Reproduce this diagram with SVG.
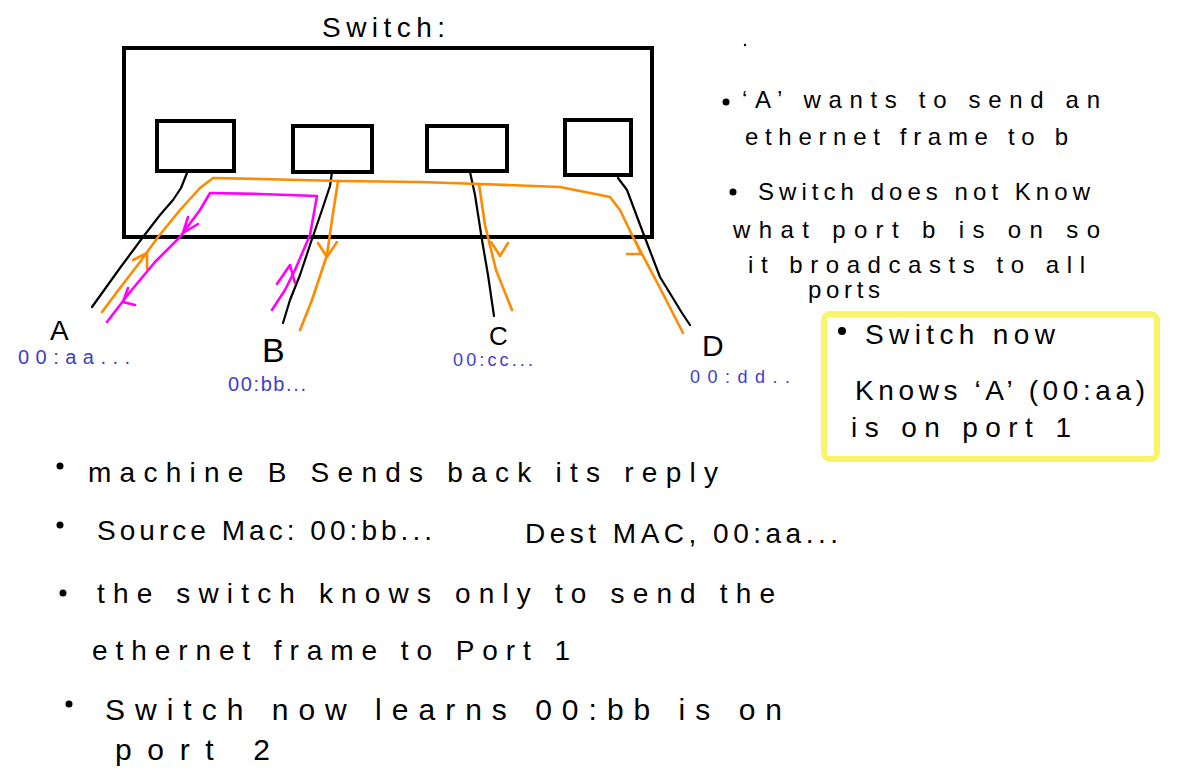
<svg xmlns="http://www.w3.org/2000/svg" width="1177" height="776" viewBox="0 0 1177 776">
<style>
.t{font-family:"Liberation Sans",Arial,sans-serif;fill:#000;}
.b{font-family:"Liberation Sans",Arial,sans-serif;fill:#3d3dd0;}
.box{fill:none;stroke:#000;stroke-width:4;}
.cab{fill:none;stroke:#000;stroke-width:2.2;stroke-linejoin:round;stroke-linecap:round;}
.or{fill:none;stroke:#ff8a00;stroke-width:2.6;stroke-linejoin:round;stroke-linecap:round;}
.mg{fill:none;stroke:#ff00ff;stroke-width:2.6;stroke-linejoin:round;stroke-linecap:round;}
</style>
<rect width="1177" height="776" fill="#fff"/>
<g id="switch">
<text class="t" x="322" y="37" font-size="28" textLength="123" lengthAdjust="spacing">Switch:</text>
<rect class="box" x="124" y="48" width="528" height="189"/>
</g>
<g id="port1"><rect class="box" x="157" y="121" width="77" height="50"/></g>
<g id="port2"><rect class="box" x="293" y="126" width="79" height="46"/></g>
<g id="port3"><rect class="box" x="427" y="126" width="80" height="45"/></g>
<g id="port4"><rect class="box" x="565" y="120" width="66" height="55"/></g>
<g id="connectors">
<path class="cab" d="M187,173 L181,188 L173,200 L160,215 L143,237 L120,268 L92,307"/>
<path class="cab" d="M332,172 L330,186 L322,210 L310,245 L300,275 L290,300 L283,323"/>
<path class="cab" d="M470,172 L475,195 L482,240 L488,275 L494,316"/>
<path class="cab" d="M618,178 L627,190 L642,230 L660,277 L682,313 L690,325"/>
<path class="or" d="M102,312 L120,288 L140,262 L158,237 L180,210 L200,188 L213,178 L260,179 L340,181 L420,182 L480,184 L560,187 L610,197 L620,210 L633,237 L660,288 L683,333"/>
<path class="or" d="M338,181 L332,220 L327,255 L312,300 L300,330"/>
<path class="or" d="M479,184 L485,225 L496,270 L512,310"/>
<path class="or" d="M133,260 L147,253 L147,269"/>
<path class="or" d="M318,243 L327,257 L337,242"/>
<path class="or" d="M491,242 L500,256 L508,243"/>
<path class="or" d="M627,254 L641,254 M636,242 L641,254"/>
<path class="mg" d="M107,322 L130,292 L155,262 L180,237 L200,210 L210,193 L260,194 L317,196 L310,235 L295,270 L285,290 L272,310"/>
<path class="mg" d="M198,224 L183,233 L188,217"/>
<path class="mg" d="M135,305 L123,302 L128,288"/>
<path class="mg" d="M277,284 L290,265 L295,283"/>
</g>
<g id="nodeA">
<text class="t" x="50" y="340" font-size="28">A</text>
<text class="b" x="18" y="364" font-size="20" textLength="112" lengthAdjust="spacing">00:aa...</text>
</g>
<g id="nodeB">
<text class="t" x="262" y="362" font-size="34">B</text>
<text class="b" x="228" y="391" font-size="20" textLength="78" lengthAdjust="spacing">00:bb...</text>
</g>
<g id="nodeC">
<text class="t" x="489" y="345" font-size="26">C</text>
<text class="b" x="453" y="366" font-size="18" textLength="80" lengthAdjust="spacing">00:cc...</text>
</g>
<g id="nodeD">
<text class="t" x="702" y="356" font-size="30">D</text>
<text class="b" x="690" y="383" font-size="18" textLength="100" lengthAdjust="spacing">00:dd..</text>
</g>
<g id="notes-right">
<circle cx="745" cy="45" r="1.2" fill="#000"/>
<circle cx="726" cy="102" r="3.5" fill="#000"/>
<text class="t" x="742" y="108" font-size="24" textLength="358" lengthAdjust="spacing">‘A’ wants to send an</text>
<text class="t" x="745" y="145" font-size="24" textLength="323" lengthAdjust="spacing">ethernet frame to b</text>
<circle cx="733" cy="192" r="3.5" fill="#000"/>
<text class="t" x="758" y="200" font-size="24" textLength="332" lengthAdjust="spacing">Switch does not Know</text>
<text class="t" x="733" y="238" font-size="24" textLength="367" lengthAdjust="spacing">what port b is on so</text>
<text class="t" x="748" y="273" font-size="24" textLength="337" lengthAdjust="spacing">it broadcasts to all</text>
<text class="t" x="808" y="298" font-size="24" textLength="72" lengthAdjust="spacing">ports</text>
</g>
<g id="highlight">
<rect x="824" y="314" width="333" height="145" rx="6" fill="none" stroke="#f8f56c" stroke-width="6"/>
<circle cx="842" cy="331" r="4" fill="#000"/>
<text class="t" x="865" y="344" font-size="28" textLength="190" lengthAdjust="spacing">Switch now</text>
<text class="t" x="855" y="400" font-size="28" textLength="290" lengthAdjust="spacing">Knows ‘A’ (00:aa)</text>
<text class="t" x="851" y="437" font-size="28" textLength="220" lengthAdjust="spacing">is on port 1</text>
</g>
<g id="notes-bottom">
<circle cx="60" cy="466" r="3.5" fill="#000"/>
<text class="t" x="88" y="482" font-size="28" textLength="630" lengthAdjust="spacing">machine B Sends back its reply</text>
<circle cx="60" cy="525" r="3.5" fill="#000"/>
<text class="t" x="97" y="540" font-size="28" textLength="335" lengthAdjust="spacing">Source Mac: 00:bb...</text>
<text class="t" x="525" y="543" font-size="28" textLength="313" lengthAdjust="spacing">Dest MAC, 00:aa...</text>
<circle cx="63" cy="593" r="3.5" fill="#000"/>
<text class="t" x="97" y="603" font-size="28" textLength="678" lengthAdjust="spacing">the switch knows only to send the</text>
<text class="t" x="92" y="660" font-size="28" textLength="478" lengthAdjust="spacing">ethernet frame to Port 1</text>
<circle cx="69" cy="704" r="3.5" fill="#000"/>
<text class="t" x="105" y="720" font-size="30" textLength="677" lengthAdjust="spacing">Switch now learns 00:bb is on</text>
<text class="t" x="115" y="760" font-size="30" textLength="155" lengthAdjust="spacing">port 2</text>
</g>
</svg>
